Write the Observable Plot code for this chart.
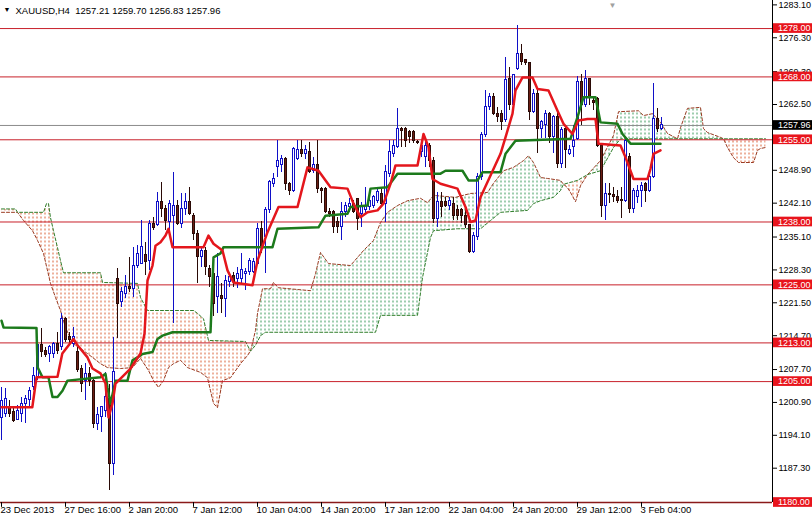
<!DOCTYPE html>
<html>
<head>
<meta charset="utf-8">
<script src="https://cdn.jsdelivr.net/npm/d3@7"></script>
<script src="https://cdn.jsdelivr.net/npm/@observablehq/plot@0.6"></script>
<style>
  html, body { margin: 0; padding: 0; background: #fff; }
  #chart { width: 812px; height: 517px; overflow: hidden; }
</style>
</head>
<body>
<div id="chart"></div>
<script>
// ---- candle data (H4 bars, index 0 = 23 Dec 2013 00:00) ----
const open = [1197.5,1198.3,1199.7,1198.7,1197.1,1198.3,1200.4,1201.1,1203.8,1205.9,
1212.5,1211.4,1210.7,1210.7,1212.8,1212.1,1218.0,1214.2,1212.8,1211.1,
1207.6,1205.2,1206.6,1205.2,1196.3,1197.6,1199.0,1201.4,1188.0,1226.2,
1221.4,1223.1,1224.5,1224.2,1229.0,1229.3,1231.1,1230.0,1237.5,1237.3,
1242.1,1240.7,1238.0,1239.3,1241.4,1237.6,1240.7,1242.1,1239.3,1235.6,
1230.7,1232.1,1228.3,1227.3,1222.4,1222.8,1222.1,1225.5,1226.9,1226.2,
1226.2,1227.3,1227.6,1227.6,1229.3,1236.6,1234.8,1240.4,1245.9,1249.3,
1249.7,1251.1,1245.9,1244.5,1251.1,1252.8,1252.1,1252.4,1248.6,1249.7,
1244.9,1244.9,1240.0,1240.0,1238.0,1236.9,1240.0,1241.1,1241.8,1242.8,
1239.7,1240.4,1241.1,1241.4,1242.4,1243.8,1241.8,1247.9,1252.1,1253.5,
1257.3,1257.3,1256.6,1256.6,1254.5,1252.4,1251.4,1253.8,1250.7,1238.7,
1242.1,1242.1,1241.4,1241.8,1240.5,1240.4,1239.3,1237.3,1231.7,1234.8,
1247.3,1255.9,1261.7,1263.8,1260.4,1260.4,1259.0,1267.6,1262.1,1269.7,
1272.8,1271.4,1270.8,1260.7,1264.5,1257.3,1258.0,1260.4,1255.5,1259.7,
1250.0,1257.3,1252.1,1253.5,1255.2,1266.9,1262.1,1267.6,1263.1,1263.5,
1253.8,1241.4,1243.8,1243.5,1243.1,1242.6,1242.4,1251.4,1240.7,1243.1,
1244.5,1245.9,1244.5,1247.3,1259.3,1257.21];
const high = [1203.8,1203.5,1201.1,1199.7,1200.0,1201.8,1202.1,1203.8,1208.0,1213.5,
1215.9,1212.1,1212.5,1213.1,1215.2,1219.0,1218.3,1215.2,1216.2,1212.1,
1208.3,1208.7,1208.0,1205.9,1199.7,1199.7,1206.9,1204.5,1214.2,1228.3,
1224.5,1226.9,1230.7,1232.8,1233.1,1238.3,1233.8,1238.3,1239.0,1244.2,
1246.2,1241.4,1242.4,1248.3,1242.4,1243.8,1243.8,1245.2,1239.7,1236.2,
1232.8,1232.8,1229.0,1228.0,1231.4,1225.2,1226.9,1227.3,1227.6,1228.6,
1231.4,1228.3,1230.4,1230.4,1237.6,1238.0,1241.1,1246.5,1248.0,1254.8,
1251.7,1251.4,1246.2,1253.5,1254.8,1254.8,1253.8,1254.5,1251.4,1254.8,
1245.2,1245.2,1240.7,1240.4,1239.0,1242.1,1242.1,1242.8,1242.4,1242.8,
1242.1,1245.2,1244.2,1243.5,1244.9,1244.9,1249.7,1254.8,1254.8,1261.4,
1257.6,1257.6,1256.9,1256.9,1254.8,1254.5,1254.8,1254.2,1251.4,1244.2,
1244.2,1243.1,1243.1,1243.1,1241.4,1240.7,1240.7,1237.3,1235.9,1248.0,
1256.6,1265.2,1264.5,1264.5,1261.7,1261.0,1272.1,1270.0,1268.6,1278.6,
1274.8,1271.7,1271.0,1265.5,1265.5,1258.9,1261.0,1260.7,1260.0,1260.7,
1257.6,1258.0,1253.8,1258.0,1268.0,1268.6,1269.3,1267.6,1263.5,1263.8,
1254.2,1245.9,1245.9,1245.2,1244.5,1245.2,1255.5,1252.1,1244.9,1245.5,
1246.2,1246.2,1247.6,1266.6,1261.4,1259.70];
const low = [1192.8,1197.6,1197.6,1196.6,1196.9,1196.6,1196.3,1199.7,1203.1,1205.2,
1210.0,1210.0,1209.0,1209.7,1210.7,1211.4,1213.1,1212.8,1212.1,1206.9,
1202.8,1201.1,1204.0,1195.3,1194.9,1194.5,1197.6,1182.5,1185.6,1214.0,
1220.4,1222.1,1223.5,1222.4,1228.3,1229.3,1227.0,1228.0,1236.2,1237.0,
1239.0,1236.2,1236.2,1217.0,1237.3,1236.6,1239.3,1239.3,1234.2,1225.2,
1228.6,1227.0,1224.5,1218.5,1219.0,1219.0,1218.3,1224.5,1224.5,1224.2,
1225.2,1223.8,1226.9,1227.3,1229.0,1231.4,1227.3,1239.7,1245.2,1247.3,
1248.3,1244.5,1243.5,1244.2,1250.7,1251.4,1250.9,1248.0,1248.0,1243.8,
1241.8,1239.7,1239.0,1235.6,1235.6,1234.2,1239.0,1240.0,1239.7,1236.2,
1236.9,1239.7,1240.4,1240.7,1241.8,1241.1,1237.9,1247.3,1251.4,1253.1,
1253.5,1253.5,1254.2,1254.2,1254.0,1251.4,1249.3,1249.3,1237.6,1236.9,
1239.0,1241.1,1240.4,1238.3,1238.3,1237.6,1236.6,1231.4,1231.4,1234.2,
1246.6,1255.5,1261.0,1260.0,1258.6,1256.9,1258.6,1261.0,1261.7,1269.3,
1270.4,1270.4,1259.0,1260.4,1252.1,1255.2,1255.2,1254.2,1252.1,1249.0,
1249.0,1249.0,1251.7,1251.4,1254.8,1258.0,1261.7,1262.1,1261.0,1253.5,
1239.0,1238.3,1241.8,1242.1,1241.8,1238.7,1242.1,1239.7,1239.7,1241.8,
1241.1,1242.1,1244.2,1246.9,1256.6,1256.83];
const close = [1201.0,1201.4,1198.3,1196.9,1199.0,1200.4,1201.4,1203.1,1206.2,1212.5,
1211.1,1210.4,1212.1,1212.8,1211.4,1218.0,1213.5,1213.5,1214.2,1207.3,
1204.5,1206.6,1205.2,1196.3,1198.0,1199.7,1201.8,1188.0,1206.9,1221.1,
1223.5,1224.5,1224.2,1229.0,1231.4,1232.8,1229.7,1237.6,1236.8,1242.1,
1240.7,1238.3,1241.8,1241.4,1237.6,1240.7,1242.1,1239.7,1235.6,1230.7,
1232.1,1228.6,1226.6,1221.1,1226.6,1222.1,1225.9,1226.6,1225.5,1227.3,
1228.0,1227.6,1230.0,1229.7,1236.6,1232.8,1240.4,1246.2,1246.9,1250.7,
1251.1,1245.9,1244.5,1253.1,1252.8,1252.1,1252.8,1248.3,1249.7,1244.9,
1244.5,1240.0,1239.7,1236.9,1236.9,1240.0,1241.4,1241.8,1240.0,1238.7,
1241.4,1241.4,1242.4,1243.1,1244.2,1241.8,1248.3,1252.4,1253.8,1257.3,
1256.9,1254.8,1255.5,1254.8,1254.3,1253.8,1253.8,1250.7,1238.7,1242.1,
1241.1,1241.4,1242.4,1239.3,1239.3,1239.3,1237.3,1231.7,1235.2,1247.3,
1255.9,1261.7,1263.8,1260.4,1259.7,1258.6,1267.3,1262.1,1268.3,1272.8,
1271.0,1270.8,1260.7,1264.5,1257.3,1258.6,1260.4,1255.5,1259.7,1250.0,
1257.0,1252.8,1252.8,1254.8,1266.9,1262.1,1267.6,1263.8,1262.6,1253.8,
1241.4,1243.8,1243.5,1243.1,1242.4,1242.3,1254.8,1240.7,1244.5,1244.5,
1245.5,1244.5,1247.3,1259.3,1257.3,1257.96];

// ---- Ichimoku lines, read as [bar, price] points ----
const tenkan = [[0,1199.7],[7.7,1199.7],[8.75,1205.9],[14,1206.0],[15.2,1210.8],[18,1213.8],[19,1212.5],
[21.5,1210.0],[22.75,1207.7],[24.75,1206.7],[26,1204.6],[26.75,1197.6],[27.75,1200.5],[28.5,1204.6],
[32.25,1207.7],[34.75,1210.8],[35.75,1214.9],[36.5,1225.9],[37.75,1229.0],[38.5,1233.1],[39.75,1233.8],
[41,1235.2],[41.75,1236.6],[42.75,1232.8],[50.5,1232.8],[51.75,1235.2],[53,1233.5],[55.25,1232.1],
[56.5,1228.0],[58,1225.5],[62.75,1224.9],[64,1230.0],[66.5,1235.9],[69.25,1241.1],[74,1241.1],
[76.5,1249.3],[79.25,1248.6],[82.25,1245.2],[86.5,1244.9],[88,1241.8],[89.75,1239.0],[91.5,1240.0],
[94,1240.4],[95.5,1241.8],[97.25,1245.9],[98.5,1249.7],[104,1249.7],[105.5,1256.2],[106.75,1253.5],
[107.75,1246.9],[109.75,1245.9],[114,1244.9],[116,1241.1],[117.25,1238.0],[118.5,1238.3],[119.75,1243.1],
[124.75,1252.1],[126,1255.5],[127.75,1260.4],[128.5,1265.2],[130.25,1267.9],[132.75,1267.9],[134,1265.5],
[136.75,1265.2],[139,1261.0],[140.5,1258.3],[142.75,1256.2],[144.25,1259.0],[146.5,1259.3],[148.5,1259.3],
[149.25,1254.2],[154.75,1253.8],[156,1251.4],[158,1246.9],[161.5,1246.9],[162.25,1249.0],[163,1252.1],
[164.75,1252.8]];
const kijun = [[0,1217.6],[0.5,1216.2],[8.75,1216.1],[9,1208.0],[10.25,1205.9],[11.75,1205.9],[12.75,1201.8],
[14,1201.8],[15.25,1203.1],[16.5,1205.2],[24.75,1205.9],[26,1206.6],[26.5,1203.8],[27.25,1200.4],
[28.5,1205.2],[31.5,1205.2],[32.75,1209.4],[34,1210.0],[35.25,1210.7],[37.75,1211.1],[39,1213.8],
[40.25,1214.5],[42.75,1215.2],[52.25,1215.2],[53,1230.7],[54.75,1231.5],[55.5,1232.8],[67.75,1232.8],
[69,1236.6],[79.25,1236.9],[81,1239.3],[86.5,1239.7],[87.25,1241.1],[91.5,1241.4],[92.25,1244.9],
[96.5,1245.2],[97.75,1246.6],[99,1248.0],[109.75,1248.0],[111,1248.6],[115.25,1248.6],[116.75,1246.6],
[119,1246.6],[120.25,1248.3],[124.75,1248.3],[126,1252.1],[128.5,1254.8],[142.25,1255.2],[144,1259.7],
[145.5,1263.8],[148.5,1263.8],[149.75,1258.6],[154,1258.3],[155.25,1256.2],[157.25,1254.2],[164.75,1254.2]];
const spanA = [[0,1240.0],[3.5,1240.0],[4,1240.0],[5.5,1238.3],[7.75,1236.2],[9,1234.2],[10.5,1231.5],
[12.25,1225.3],[13.5,1222.4],[14.75,1219.7],[16,1216.2],[17.75,1212.9],[20.5,1211.4],[22.75,1210.0],
[24.75,1208.7],[26.5,1207.9],[29.75,1207.7],[32.75,1207.9],[34.75,1209.8],[36.75,1207.3],[38,1205.2],
[39.25,1203.8],[40.5,1205.2],[41.75,1207.9],[43,1208.7],[44.75,1209.4],[46.5,1207.9],[49.75,1206.9],
[51.5,1205.8],[52.25,1203.1],[53,1200.5],[54,1199.6],[55.25,1205.2],[57.25,1205.8],[59.75,1208.7],
[61.5,1210.4],[62.25,1211.3],[63.5,1215.6],[64,1219.1],[65.25,1224.2],[67.25,1224.2],[68,1225.5],
[69.25,1224.4],[77.25,1223.8],[78.5,1227.3],[79.75,1231.7],[81.75,1229.4],[87.25,1229.0],[90.5,1232.1],
[93,1234.2],[94.75,1237.9],[96.5,1240.0],[99,1241.4],[101.5,1242.4],[104.75,1242.9],[106.5,1242.0],
[108,1243.5],[113.5,1243.1],[117.25,1243.9],[121.5,1244.1],[123,1246.0],[125.5,1248.6],[128,1249.3],
[130.5,1250.7],[131.75,1251.7],[133,1250.3],[134.75,1247.2],[136.5,1247.0],[139.75,1246.6],[140.5,1245.8],
[141.5,1245.1],[142.25,1244.1],[143.5,1242.2],[144.75,1245.5],[146.5,1247.8],[149.75,1250.7],[153,1255.9],
[154.25,1260.8],[159.25,1261.0],[160.5,1260.0],[162.75,1260.4],[164.75,1258.6],[166.5,1256.3],[169,1255.2],
[169.75,1257.5],[171.5,1261.5],[174.75,1261.7],[175.5,1257.3],[176.5,1256.5],[179.75,1255.5],[180.5,1255.2],
[181.5,1253.4],[183,1251.3],[184.25,1250.3],[188,1250.3],[189,1252.8],[189.75,1253.2],[191,1253.4]];
const spanB = [[0,1240.7],[3.5,1240.7],[4,1240.0],[10.5,1240.0],[11.25,1241.8],[11.75,1241.8],[12.25,1238.9],
[13,1236.2],[14,1232.7],[14.75,1230.0],[15.5,1227.5],[24.75,1227.5],[25.25,1225.5],[34,1225.3],[34.75,1222.4],
[36.5,1219.7],[48,1219.7],[49,1219.1],[50.5,1218.0],[51.75,1213.5],[61,1213.3],[62.25,1211.3],[63.5,1212.5],
[64.75,1214.5],[66,1215.2],[93.5,1215.2],[94.75,1218.7],[104,1218.7],[105.25,1226.5],[107.25,1234.8],
[108,1236.2],[114,1236.6],[119.75,1236.6],[122.25,1238.3],[124.75,1240.0],[131.5,1240.4],[133,1241.8],
[134.75,1242.4],[138,1243.1],[139.75,1244.5],[140.5,1245.8],[144,1246.6],[146.5,1247.8],[149.75,1248.6],
[153,1253.4],[154.75,1255.2],[180.5,1255.2],[191,1255.2]];
// cloud sections between crossings (bear = span A below span B)
const cloudFrom = [0, 62.25, 140.5, 146.5, 180.5];
const cloudTo   = [62.25, 140.5, 146.5, 180.5, 191];
const cloudKind = ["bear", "bull", "bear", "bull", "bear"];

// ---- horizontal levels, price line, axes ----
const levels = [1278, 1268, 1255, 1238, 1225, 1213, 1205, 1180];
const lastPrice = 1257.96;
const yTicks = [1283.1, 1276.3, 1269.3, 1262.5, 1248.9, 1242.1, 1235.1, 1228.3, 1221.5, 1214.7, 1207.7, 1200.9, 1194.1, 1187.3];
const xTickBars = [0, 16, 32, 48, 64, 80, 96, 112, 128, 144, 160];
const xTickLabels = ["23 Dec 2013", "27 Dec 16:00", "2 Jan 20:00", "7 Jan 12:00", "10 Jan 04:00", "14 Jan 20:00", "17 Jan 12:00", "22 Jan 04:00", "24 Jan 20:00", "29 Jan 12:00", "3 Feb 04:00"];
const titleText = "XAUUSD,H4  1257.21 1259.70 1256.83 1257.96";

// ---- build ----
const candles = open.map((o, i) => ({i, o, h: high[i], l: low[i], c: close[i]}));
const bull = candles.filter(d => d.c >= d.o);
const bear = candles.filter(d => d.c < d.o);

const BLUE = "#1010c8", DARK = "#2a0a06", BEARFILL = "#6b1d12";
const LEVEL = "#c8202a", LABEL = "#e8141c";

const cloudMarks = cloudFrom.map((f, k) => {
  const t = cloudTo[k];
  const poly = spanA.filter(p => p[0] >= f && p[0] <= t)
    .concat(spanB.filter(p => p[0] >= f && p[0] <= t).reverse());
  return Plot.line(poly, {x: d => d[0], y: d => d[1], stroke: "none",
    fill: cloudKind[k] === "bear" ? "url(#hatchBear)" : "url(#hatchBull)"});
});

const chart = Plot.plot({
  width: 812, height: 517,
  marginLeft: 0, marginRight: 40, marginTop: 0, marginBottom: 15,
  x: {domain: [-0.25, 192.75], axis: null},
  y: {domain: [1180, 1283.8], axis: null},
  style: {fontFamily: "'Liberation Sans', Arial, sans-serif", fontSize: "9px", background: "white", color: "black"},
  marks: [
    ...cloudMarks,
    Plot.line(spanA, {x: d => d[0], y: d => d[1], stroke: "#9a3b22", strokeWidth: 1, strokeDasharray: "3,2"}),
    Plot.line(spanB, {x: d => d[0], y: d => d[1], stroke: "#2f7d2a", strokeWidth: 1, strokeDasharray: "3,2"}),
    Plot.ruleY(levels, {stroke: LEVEL, strokeWidth: 1}),
    Plot.ruleY([lastPrice], {stroke: "#8c8c8c", strokeWidth: 1}),
    Plot.ruleX(bull, {x: "i", y1: "l", y2: "h", stroke: BLUE, strokeWidth: 1, shapeRendering: "crispEdges"}),
    Plot.ruleX(bear, {x: "i", y1: "l", y2: "h", stroke: DARK, strokeWidth: 1, shapeRendering: "crispEdges"}),
    Plot.rect(bull, {x1: d => d.i - 0.25, x2: d => d.i + 0.25, y1: "o", y2: "c", fill: "white", stroke: BLUE, strokeWidth: 1, shapeRendering: "crispEdges"}),
    Plot.rect(bear, {x1: d => d.i - 0.25, x2: d => d.i + 0.25, y1: "o", y2: "c", fill: BEARFILL, stroke: DARK, strokeWidth: 1, shapeRendering: "crispEdges"}),
    Plot.line(kijun, {x: d => d[0], y: d => d[1], stroke: "#1c7a1c", strokeWidth: 2.5}),
    Plot.line(tenkan, {x: d => d[0], y: d => d[1], stroke: "#e4161c", strokeWidth: 2.5}),
    Plot.ruleX([192.75], {stroke: "black", strokeWidth: 1}),
    Plot.ruleY([1180], {stroke: "#8a1a1a", strokeWidth: 1.5}),
    Plot.axisY(yTicks, {anchor: "right", tickSize: 4, tickPadding: 2, tickFormat: d => d.toFixed(2), fontSize: 9, label: null, stroke: "black", dy: 1}),
    Plot.rect(levels, {x1: 193, x2: 203, y1: d => d - 1.0, y2: d => d + 1.0, fill: LABEL}),
    Plot.text(levels, {x: 193.75, y: d => d, text: d => d.toFixed(2), fill: "white", textAnchor: "start", dx: 1.5, fontSize: 9}),
    Plot.rect([lastPrice], {x1: 193, x2: 203, y1: d => d - 1.0, y2: d => d + 1.0, fill: "black"}),
    Plot.text([lastPrice], {x: 193.75, y: d => d, text: d => d.toFixed(2), fill: "white", textAnchor: "start", dx: 1.5, fontSize: 9}),
    Plot.ruleX(xTickBars, {x: d => d, y1: 1180, y2: 1179.0, stroke: "black"}),
    Plot.text(xTickBars, {x: d => d, text: (d, i) => xTickLabels[i], frameAnchor: "bottom", dy: 10, dx: -1, textAnchor: "start", fontSize: 9.5}),
    Plot.text([titleText], {frameAnchor: "top-left", dx: 15, dy: 7, textAnchor: "start", fontSize: 9.5, fill: "black"}),
    Plot.text(["▼"], {frameAnchor: "top-left", dx: 3, dy: 7, textAnchor: "start", fontSize: 7, fill: "black"}),
    Plot.text(["▼"], {x: 152.75, frameAnchor: "top", dy: 2, fontSize: 8, fill: "#a0a0a0"})
  ]
});

d3.select(chart).insert("defs", ":first-child").html(
  '<pattern id="hatchBear" patternUnits="userSpaceOnUse" width="4" height="4">' +
  '<rect x="0" y="0" width="1" height="2" fill="#d9623a"/></pattern>' +
  '<pattern id="hatchBull" patternUnits="userSpaceOnUse" width="4" height="4">' +
  '<rect x="0" y="0" width="1" height="2" fill="#3c9a5c"/></pattern>'
);
document.getElementById("chart").appendChild(chart);
</script>
</body>
</html>
